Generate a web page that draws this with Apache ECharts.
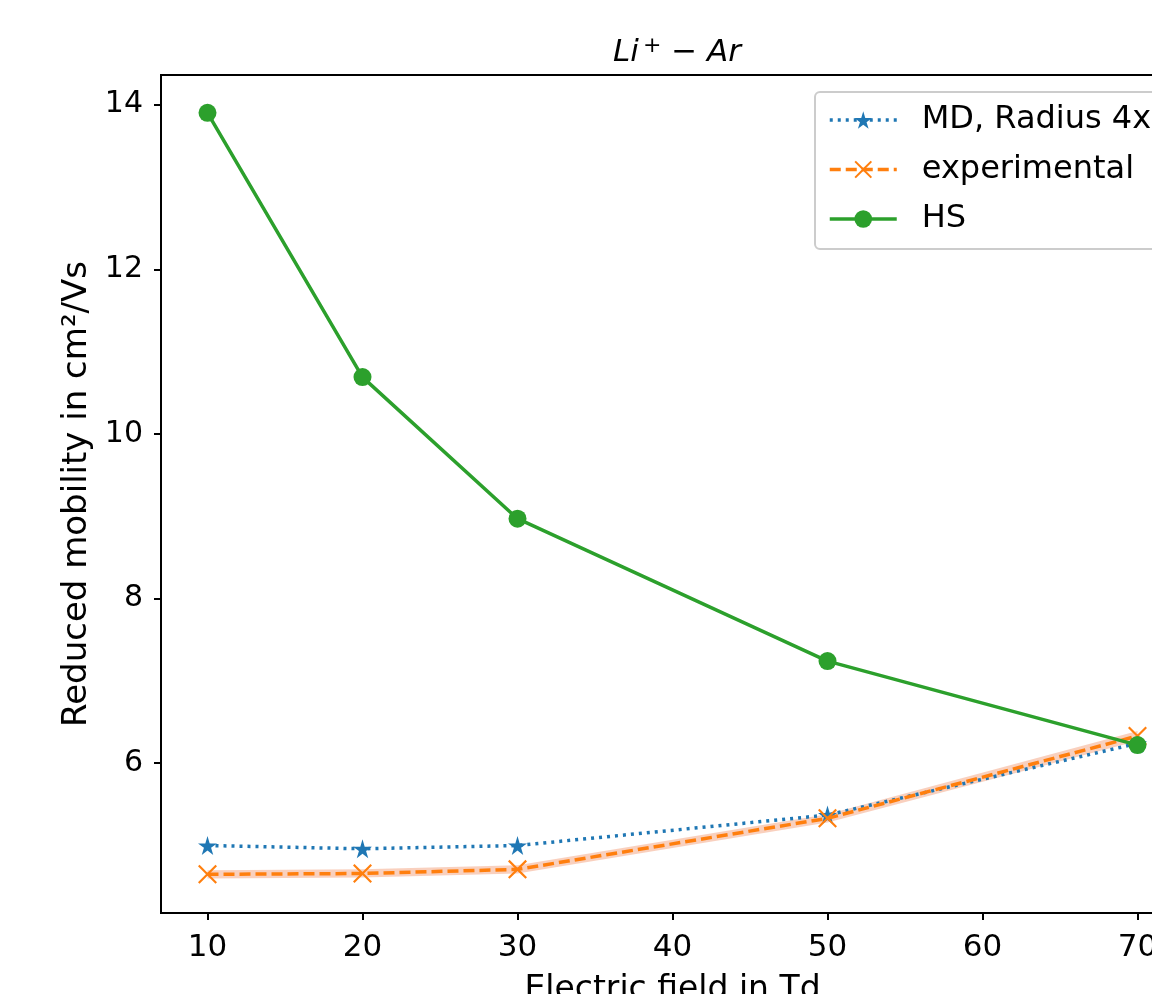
<!DOCTYPE html>
<html>
<head>
<meta charset="utf-8">
<title>Li+ - Ar mobility</title>
<script src="https://cdn.jsdelivr.net/npm/echarts@6/dist/echarts.min.js"></script>
<style>
  html, body { margin: 0; padding: 0; background: #fff; overflow: hidden; }
  #chart { width: 1190px; height: 994px; }
</style>
</head>
<body>
<div id="chart"></div>
<script>
// electric field values (Td)
var fields = [10, 20, 30, 50, 70];
var mdValues = [5.00, 4.96, 5.00, 5.37, 6.24];
var expValues = [4.65, 4.66, 4.71, 5.33, 6.33];
var expLower = [4.60, 4.61, 4.66, 5.28, 6.27];
var expUpper = [4.70, 4.71, 4.76, 5.38, 6.39];
var hsValues = [13.90, 10.69, 8.97, 7.24, 6.22];
var xTicks = [10, 20, 30, 40, 50, 60, 70];
var yTicks = [6, 8, 10, 12, 14];

var starPath = 'path://M50,0 L61,35 L98,35 L68,56 L79,90 L50,69 L21,90 L32,56 L2,35 L39,35 Z';
var crossPath = 'path://M0,8 L8,0 L50,42 L92,0 L100,8 L58,50 L100,92 L92,100 L50,58 L8,100 L0,92 L42,50 Z';

function pairs(xs, ys) {
  return xs.map(function (x, i) { return [x, ys[i]]; });
}

// band rows: x, lower, upper
var bandData = fields.map(function (x, i) { return [x, expLower[i], expUpper[i]]; });

var chart = echarts.init(document.getElementById('chart'));
var font = 'DejaVu Sans';
var lw = 3.5;

chart.setOption({
  animation: false,
  textStyle: { fontFamily: font },
  title: {
    text: '{i|Li}{s|+}{n| − }{i|Ar}',
    left: 672,
    top: 30,
    textAlign: 'center',
    textStyle: {
      fontWeight: 'normal',
      rich: {
        i: { fontFamily: font, fontStyle: 'italic', fontWeight: 'normal', fontSize: 31, color: '#000' },
        s: { fontFamily: font, fontWeight: 'normal', fontSize: 22, color: '#000', verticalAlign: 'top', padding: [0, 0, 14, 4] },
        n: { fontFamily: font, fontWeight: 'normal', fontSize: 31, color: '#000' }
      }
    }
  },
  legend: {
    left: 815,
    top: 92,
    orient: 'vertical',
    data: ['MD, Radius 4x', 'experimental', 'HS'],
    itemWidth: 67,
    itemHeight: 22,
    itemGap: 17.5,
    padding: [12, 10, 14, 13],
    borderColor: '#cccccc',
    borderWidth: 2,
    borderRadius: 5,
    backgroundColor: 'rgba(255,255,255,0.8)',
    lineStyle: { width: lw },
    textStyle: { fontFamily: font, fontSize: 32, color: '#000', padding: [0, 0, 0, 20] }
  },
  grid: {
    left: 161,
    top: 75,
    width: 1023,
    height: 838,
    outerBoundsMode: 'none',
    containLabel: false,
    show: true,
    borderColor: '#000',
    borderWidth: 2,
    backgroundColor: 'transparent'
  },
  xAxis: {
    type: 'value',
    min: 7,
    max: 73,
    name: 'Electric field in Td',
    nameLocation: 'middle',
    nameGap: 61,
    nameTextStyle: { fontFamily: font, fontSize: 33, color: '#000' },
    splitLine: { show: false },
    axisLine: { show: true, onZero: false, lineStyle: { color: '#000', width: 2 } },
    axisTick: { show: true, length: 7, customValues: xTicks, lineStyle: { color: '#000', width: 2 } },
    axisLabel: { customValues: xTicks, fontFamily: font, fontSize: 31, color: '#000', margin: 19 }
  },
  yAxis: {
    type: 'value',
    min: 4.18,
    max: 14.36,
    name: 'Reduced mobility in cm²/Vs',
    nameLocation: 'middle',
    nameGap: 60,
    nameTextStyle: { fontFamily: font, fontSize: 34, color: '#000' },
    splitLine: { show: false },
    axisLine: { show: true, onZero: false, lineStyle: { color: '#000', width: 2 } },
    axisTick: { show: true, length: 7, customValues: yTicks, lineStyle: { color: '#000', width: 2 } },
    axisLabel: { customValues: yTicks, fontFamily: font, fontSize: 30, color: '#000', margin: 18 }
  },
  series: [
    {
      name: 'MD, Radius 4x',
      type: 'line',
      data: pairs(fields, mdValues),
      symbol: starPath,
      symbolSize: 19,
      itemStyle: { color: '#1f77b4' },
      lineStyle: { color: '#1f77b4', width: lw, type: [3, 5] },
      z: 3
    },
    {
      name: 'band',
      type: 'custom',
      data: bandData,
      silent: true,
      z: 2,
      renderItem: function (params, api) {
        if (params.dataIndex !== 0) return;
        var upper = [];
        var lower = [];
        for (var i = 0; i < bandData.length; i++) {
          upper.push(api.coord([bandData[i][0], bandData[i][2]]));
          lower.unshift(api.coord([bandData[i][0], bandData[i][1]]));
        }
        return {
          type: 'polygon',
          shape: { points: upper.concat(lower) },
          style: { fill: 'rgba(238,120,70,0.35)' }
        };
      }
    },
    {
      name: 'experimental',
      type: 'line',
      data: pairs(fields, expValues),
      symbol: crossPath,
      symbolSize: 19,
      itemStyle: { color: '#ff7f0e' },
      lineStyle: { color: '#ff7f0e', width: lw, type: [11, 5] },
      z: 4
    },
    {
      name: 'HS',
      type: 'line',
      data: pairs(fields, hsValues),
      symbol: 'circle',
      symbolSize: 18,
      itemStyle: { color: '#2ca02c' },
      lineStyle: { color: '#2ca02c', width: lw },
      z: 5
    }
  ]
});
</script>
</body>
</html>
